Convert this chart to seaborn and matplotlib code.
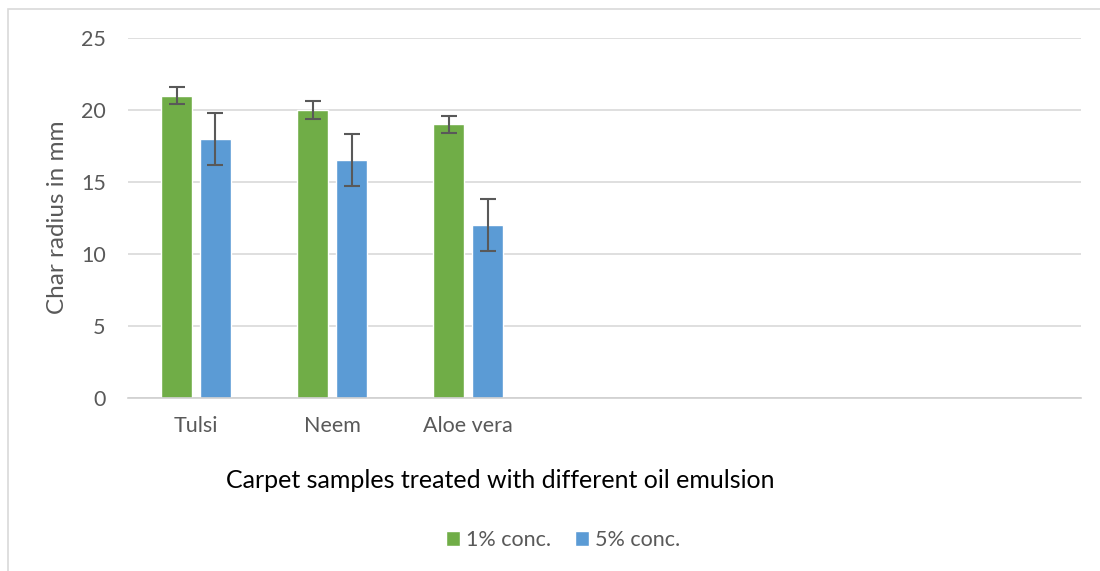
import pandas as pd
import matplotlib.pyplot as plt
import seaborn as sns
from matplotlib.patches import Rectangle

# Data
samples = ["Tulsi", "Neem", "Aloe vera"]
series = ["1% conc.", "5% conc."]
conc_1 = [21, 20, 19]
conc_5 = [18, 16.5, 12]
err_1 = [0.6, 0.6, 0.6]
err_5 = [1.8, 1.8, 1.8]
y_ticks = [0, 5, 10, 15, 20, 25]

df = pd.DataFrame({
    "sample": samples * 2,
    "conc": [series[0]] * 3 + [series[1]] * 3,
    "radius": conc_1 + conc_5,
})

sns.set_style("white")
plt.rcParams['font.family'] = ['Lato', 'DejaVu Sans']

fig = plt.figure(figsize=(11, 5.71), dpi=100)
ax = fig.add_axes([128 / 1100, 1 - 398 / 571, (1081 - 128) / 1100, 360 / 571])

sns.barplot(data=df, x="sample", y="radius", hue="conc", order=samples,
            hue_order=series, palette=["#70AD47", "#5B9BD5"], saturation=1,
            width=0.57, gap=0.2, errorbar=None, ax=ax)

# Error bars on top of each bar
for cont, errs in zip(ax.containers, [err_1, err_5]):
    for bar, e in zip(cont, errs):
        x = bar.get_x() + bar.get_width() / 2
        ax.errorbar(x, bar.get_height(), yerr=e, fmt='none', ecolor='#595959',
                    elinewidth=1.5, capsize=6, capthick=1.5, zorder=5)

ax.set_xlim(-0.5, 6.5)
ax.set_ylim(0, 25)
ax.set_yticks(y_ticks)
ax.yaxis.grid(True, color='#d9d9d9', linewidth=1.2)
ax.set_axisbelow(True)
for s in ['top', 'right', 'left']:
    ax.spines[s].set_visible(False)
ax.spines['bottom'].set_color('#d0d0d0')
ax.spines['bottom'].set_linewidth(1.2)
ax.tick_params(axis='y', length=0, pad=16, labelsize=15.5, labelcolor='#595959')
ax.tick_params(axis='x', length=0, pad=13, labelsize=15.5, labelcolor='#595959')
ax.set_xlabel("")
ax.set_ylabel("")

fig.text(58 / 1100, 1 - 217.5 / 571, "Char radius in mm", rotation=90,
         ha='center', va='center', fontsize=17.5, color='#595959')
fig.text(500 / 1100, 1 - 480 / 571, "Carpet samples treated with different oil emulsion",
         ha='center', va='center', fontsize=18, color='black')

handles, labels = ax.get_legend_handles_labels()
ax.get_legend().remove()
fig.legend(handles, labels, loc='center', bbox_to_anchor=(563 / 1100, 1 - 540 / 571),
           ncol=2, frameon=False, fontsize=15.5, handlelength=0.65, handleheight=0.65,
           handletextpad=0.3, columnspacing=1.1, labelcolor='#595959')

# Chart frame (partly cropped in the reference)
fig.patches.append(Rectangle((8 / 1100, -0.1), 1.2, 1.1 - 9 / 571, transform=fig.transFigure,
                             fill=False, edgecolor='#d9d9d9', linewidth=1.2))

fig.savefig("out.png", dpi=100)
